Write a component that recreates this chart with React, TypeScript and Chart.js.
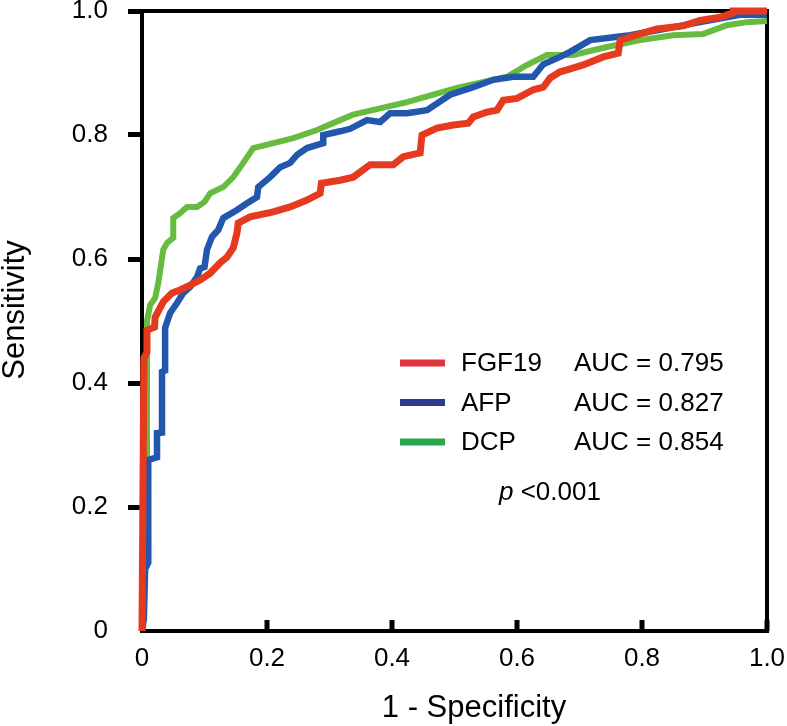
import React, { useEffect, useRef } from "react";
import { Chart, registerables } from "chart.js";

Chart.register(...registerables);

const seriesNames = ["FGF19", "AFP", "DCP"];
const aucLabels = ["AUC = 0.795", "AUC = 0.827", "AUC = 0.854"];
const curveColors = ["#e63a1f", "#2356ad", "#67bb41"];
const legendColors = ["#e0343f", "#2c3b92", "#2aa64a"];
const tickValues = [0, 0.2, 0.4, 0.6, 0.8, 1.0];
const xTitle = "1 - Specificity";
const yTitle = "Sensitivity";
const pLabel = "<0.001";

const fgf19X = [0, 0.003, 0.008, 0.008, 0.02, 0.021, 0.034, 0.048, 0.061, 0.077, 0.093, 0.109, 0.125, 0.136, 0.146, 0.152, 0.154, 0.173, 0.21, 0.237, 0.264, 0.285, 0.287, 0.317, 0.338, 0.365, 0.402, 0.418, 0.445, 0.448, 0.472, 0.498, 0.522, 0.53, 0.552, 0.568, 0.578, 0.6, 0.626, 0.642, 0.653, 0.669, 0.68, 0.706, 0.738, 0.762, 0.765, 0.797, 0.824, 0.866, 0.893, 0.925, 0.946, 0.946, 1.0];
const fgf19Y = [0, 0.44, 0.45, 0.485, 0.49, 0.506, 0.531, 0.545, 0.55, 0.558, 0.566, 0.577, 0.594, 0.603, 0.618, 0.642, 0.658, 0.668, 0.676, 0.684, 0.695, 0.706, 0.722, 0.727, 0.732, 0.752, 0.752, 0.765, 0.771, 0.8, 0.811, 0.816, 0.819, 0.829, 0.837, 0.84, 0.856, 0.859, 0.873, 0.877, 0.892, 0.902, 0.905, 0.913, 0.926, 0.932, 0.953, 0.963, 0.971, 0.976, 0.985, 0.99, 0.997, 1.0, 1.0];

const afpX = [0, 0.003, 0.005, 0.01, 0.01, 0.024, 0.024, 0.032, 0.032, 0.037, 0.037, 0.045, 0.056, 0.066, 0.077, 0.088, 0.093, 0.1, 0.104, 0.112, 0.122, 0.13, 0.152, 0.168, 0.184, 0.186, 0.205, 0.221, 0.237, 0.248, 0.264, 0.29, 0.29, 0.317, 0.333, 0.36, 0.381, 0.397, 0.424, 0.456, 0.493, 0.53, 0.562, 0.594, 0.626, 0.642, 0.669, 0.685, 0.717, 0.781, 0.824, 0.893, 0.957, 1.0];
const afpY = [0, 0.02, 0.1, 0.11, 0.276, 0.28, 0.319, 0.32, 0.418, 0.42, 0.489, 0.513, 0.529, 0.545, 0.555, 0.571, 0.585, 0.587, 0.615, 0.636, 0.647, 0.666, 0.679, 0.69, 0.7, 0.716, 0.732, 0.748, 0.755, 0.768, 0.779, 0.787, 0.8, 0.806, 0.81, 0.824, 0.821, 0.835, 0.835, 0.84, 0.865, 0.877, 0.889, 0.894, 0.894, 0.914, 0.926, 0.934, 0.953, 0.961, 0.969, 0.982, 0.994, 0.994];

const dcpX = [0, 0.004, 0.008, 0.008, 0.013, 0.021, 0.026, 0.034, 0.04, 0.05, 0.05, 0.061, 0.072, 0.088, 0.1, 0.109, 0.13, 0.146, 0.162, 0.178, 0.21, 0.242, 0.28, 0.317, 0.338, 0.424, 0.504, 0.584, 0.616, 0.648, 0.69, 0.744, 0.797, 0.85, 0.898, 0.936, 0.968, 1.0];
const dcpY = [0, 0.28, 0.28, 0.5, 0.526, 0.537, 0.561, 0.615, 0.626, 0.634, 0.666, 0.674, 0.684, 0.684, 0.692, 0.706, 0.716, 0.732, 0.755, 0.779, 0.787, 0.795, 0.808, 0.824, 0.833, 0.853, 0.876, 0.894, 0.913, 0.929, 0.929, 0.942, 0.953, 0.961, 0.963, 0.977, 0.982, 0.984];

const FONT = '"Liberation Sans", Arial, Helvetica, sans-serif';

const zip = (xs: number[], ys: number[]) => xs.map((x, i) => ({ x, y: ys[i] }));

const fmt = (v: number) => (Math.abs(v) < 1e-9 ? "0" : Number(v).toFixed(1));

const framePlugin = {
  id: "frame",
  beforeDatasetsDraw(chart: any) {
    const { ctx, chartArea, scales } = chart;
    ctx.save();
    ctx.strokeStyle = "#000";
    ctx.lineWidth = 4;
    ctx.strokeRect(chartArea.left, chartArea.top, chartArea.right - chartArea.left, chartArea.bottom - chartArea.top);
    ctx.lineWidth = 5;
    tickValues.forEach((v) => {
      if (v === 0) return;
      const px = scales.x.getPixelForValue(v);
      ctx.beginPath();
      ctx.moveTo(px, chartArea.bottom);
      ctx.lineTo(px, chartArea.bottom - 11);
      ctx.stroke();
    });
    ctx.restore();
  },
};

const textPlugin = {
  id: "texts",
  afterDraw(chart: any) {
    const { ctx } = chart;
    ctx.save();
    ctx.fillStyle = "#000";
    ctx.font = `31px ${FONT}`;
    ctx.textAlign = "center";
    ctx.textBaseline = "alphabetic";
    ctx.fillText(xTitle, 474, 717);
    ctx.save();
    ctx.translate(24, 310);
    ctx.rotate(-Math.PI / 2);
    ctx.fillText(yTitle, 0, 0);
    ctx.restore();
    ctx.textAlign = "left";
    ctx.textBaseline = "middle";
    ctx.font = `26px ${FONT}`;
    seriesNames.forEach((name, i) => {
      const y = 363 + i * 39.5;
      ctx.strokeStyle = legendColors[i];
      ctx.lineWidth = 7;
      ctx.beginPath();
      ctx.moveTo(400, y);
      ctx.lineTo(445, y);
      ctx.stroke();
      ctx.fillText(name, 461, y + 1);
      ctx.fillText(aucLabels[i], 574, y + 1);
    });
    ctx.font = `italic 26px ${FONT}`;
    ctx.fillText("p", 499, 493);
    const pw = ctx.measureText("p ").width;
    ctx.font = `26px ${FONT}`;
    ctx.fillText(pLabel, 499 + pw, 493);
    ctx.restore();
  },
};

export default function App() {
  const ref = useRef<HTMLCanvasElement>(null);
  useEffect(() => {
    if (!ref.current) return;
    const series = [zip(fgf19X, fgf19Y), zip(afpX, afpY), zip(dcpX, dcpY)];
    const widths = [7, 6.5, 6];
    const chart = new Chart(ref.current, {
      type: "line",
      data: {
        datasets: seriesNames.map((name, i) => ({
          label: name,
          data: series[i],
          borderColor: curveColors[i],
          backgroundColor: curveColors[i],
          borderWidth: widths[i],
          pointRadius: 0,
          pointHoverRadius: 0,
          tension: 0,
          fill: false,
          clip: 10,
          borderJoinStyle: "miter" as const,
        })),
      },
      options: {
        responsive: false,
        animation: false,
        layout: { padding: { left: 0, right: 20, top: 11, bottom: 0 } },
        plugins: { legend: { display: false }, tooltip: { enabled: false } },
        scales: {
          x: {
            type: "linear",
            min: 0,
            max: 1,
            afterFit: (s: any) => {
              s.height = 95;
              s.paddingLeft = 0;
              s.paddingRight = 0;
              s.paddingTop = 0;
              s.paddingBottom = 0;
            },
            afterBuildTicks: (s: any) => {
              s.ticks = tickValues.map((v) => ({ value: v }));
            },
            ticks: {
              color: "#000",
              font: { size: 26, family: FONT },
              padding: 12,
              maxRotation: 0,
              autoSkip: false,
              callback: (v: any) => fmt(Number(v)),
            },
            grid: { display: false, drawTicks: false },
            border: { display: false },
          },
          y: {
            type: "linear",
            min: 0,
            max: 1,
            afterFit: (s: any) => {
              s.width = 142;
              s.paddingLeft = 0;
              s.paddingRight = 0;
              s.paddingTop = 0;
              s.paddingBottom = 0;
            },
            afterBuildTicks: (s: any) => {
              s.ticks = tickValues.map((v) => ({ value: v }));
            },
            ticks: {
              color: "#000",
              font: { size: 26, family: FONT },
              padding: 20,
              autoSkip: false,
              callback: (v: any) => fmt(Number(v)),
            },
            grid: {
              display: true,
              drawOnChartArea: false,
              drawTicks: true,
              tickLength: 14,
              tickWidth: 5,
              color: (c: any) => (c.tick && c.tick.value === 0 ? "rgba(0,0,0,0)" : "#000"),
            },
            border: { display: false },
          },
        },
      },
      plugins: [framePlugin, textPlugin],
    });
    return () => chart.destroy();
  }, []);
  return (
    <div style={{ position: "fixed", left: 0, top: 0, width: 787, height: 726, background: "#fff" }}>
      <canvas ref={ref} width={787} height={726} style={{ display: "block" }} />
    </div>
  );
}
